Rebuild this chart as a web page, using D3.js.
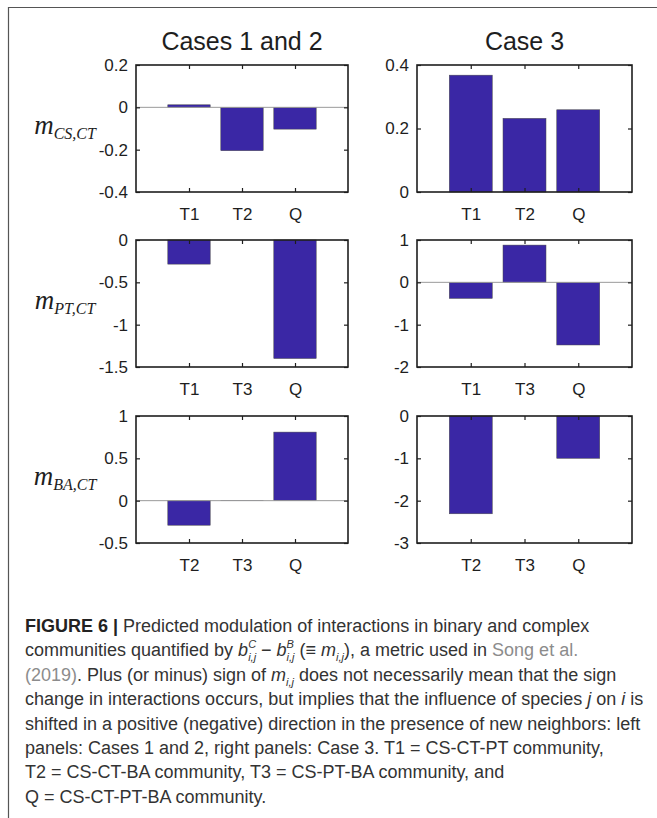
<!DOCTYPE html>
<html>
<head>
<meta charset="utf-8">
<script src="https://cdn.jsdelivr.net/npm/d3@7"></script>
<style>
  html, body { margin: 0; padding: 0; background: #fff; }
  svg { display: block; }
  text { white-space: pre; }
</style>
</head>
<body>
<svg id="fig" width="657" height="818"></svg>
<script>
// ---- data ----
const columnTitles = ["Cases 1 and 2", "Case 3"];
const rowSubscripts = ["CS,CT", "PT,CT", "BA,CT"];
const rowCategories = [["T1", "T2", "Q"], ["T1", "T3", "Q"], ["T2", "T3", "Q"]];

// m_{i,j} values, one array per row
const case12Values = [[0.012, -0.205, -0.103], [-0.285, 0, -1.40], [-0.29, 0.002, 0.81]];
const case3Values  = [[0.368, 0.232, 0.259], [-0.38, 0.88, -1.48], [-2.31, 0, -1.0]];

const case12Domains = [[-0.4, 0.2], [-1.5, 0], [-0.5, 1]];
const case3Domains  = [[0, 0.4], [-2, 1], [-3, 0]];
const case12Ticks = [[-0.4, -0.2, 0, 0.2], [-1.5, -1, -0.5, 0], [-0.5, 0, 0.5, 1]];
const case3Ticks  = [[0, 0.2, 0.4], [-2, -1, 0, 1], [-3, -2, -1, 0]];

// ---- layout ----
const svg = d3.select("#fig");
const colLeft = [136, 417];
const colWidth = [212, 215];
const rowTop = [65, 240, 416];
const panelH = 127;
const barColor = "#3a27a5";
const ink = "#1e1e1e";

// outer frame (top and left rules)
svg.append("line").attr("x1", 8).attr("x2", 657).attr("y1", 7.5).attr("y2", 7.5)
  .attr("stroke", "#555").attr("stroke-width", 1.2);
svg.append("line").attr("x1", 8.5).attr("x2", 8.5).attr("y1", 7).attr("y2", 818)
  .attr("stroke", "#555").attr("stroke-width", 1.2);

// column titles
columnTitles.forEach((t, c) => {
  svg.append("text")
    .attr("x", colLeft[c] + colWidth[c] / 2).attr("y", 50)
    .attr("text-anchor", "middle")
    .attr("font-family", "Liberation Sans, Arial, sans-serif")
    .attr("font-size", 25).attr("fill", ink)
    .text(t);
});

const fmt = v => String(v);

function drawPanel(c, r, values, domain, ticks) {
  const left = colLeft[c], w = colWidth[c], top = rowTop[r];
  const g = svg.append("g").attr("transform", `translate(${left},${top})`);
  const x = d3.scaleLinear().domain([0, 4]).range([0, w]);
  const y = d3.scaleLinear().domain(domain).range([panelH, 0]);
  const cats = rowCategories[r];
  const bw = x(0.8) - x(0);

  // bars
  g.selectAll("rect.bar").data(values).join("rect")
    .attr("class", "bar")
    .attr("x", (d, i) => x(i + 1) - bw / 2)
    .attr("width", bw)
    .attr("y", d => y(Math.max(0, d)))
    .attr("height", d => Math.abs(y(d) - y(0)))
    .attr("fill", barColor)
    .attr("stroke", "#4a4a4a").attr("stroke-width", 0.5)
    .attr("display", d => d === 0 ? "none" : null);

  // zero baseline
  if (domain[0] < 0 && domain[1] > 0) {
    g.append("line").attr("x1", 0).attr("x2", w)
      .attr("y1", y(0)).attr("y2", y(0))
      .attr("stroke", "#9a9a9a").attr("stroke-width", 1);
  }

  const style = sel => {
    sel.select(".domain").remove();
    sel.selectAll(".tick line").attr("stroke", ink).attr("stroke-width", 1.2);
    sel.selectAll(".tick text")
      .attr("font-family", "Liberation Sans, Arial, sans-serif")
      .attr("font-size", 17).attr("fill", ink);
  };

  g.append("g").call(d3.axisLeft(y).tickValues(ticks).tickFormat(fmt)
    .tickSize(-4).tickSizeOuter(0).tickPadding(8)).call(style);
  g.append("g").attr("transform", `translate(${w},0)`)
    .call(d3.axisRight(y).tickValues(ticks).tickFormat("").tickSize(-4).tickSizeOuter(0)).call(style);
  g.append("g").attr("transform", `translate(0,${panelH})`)
    .call(d3.axisBottom(x).tickValues([1, 2, 3]).tickFormat(i => cats[i - 1])
      .tickSize(-4).tickSizeOuter(0).tickPadding(16)).call(style);
  g.append("g")
    .call(d3.axisTop(x).tickValues([1, 2, 3]).tickFormat("").tickSize(-4).tickSizeOuter(0)).call(style);

  // axes box
  g.append("rect").attr("x", 0).attr("y", 0).attr("width", w).attr("height", panelH)
    .attr("fill", "none").attr("stroke", ink).attr("stroke-width", 1.6);
}

for (let r = 0; r < 3; r++) {
  drawPanel(0, r, case12Values[r], case12Domains[r], case12Ticks[r]);
  drawPanel(1, r, case3Values[r], case3Domains[r], case3Ticks[r]);

  // row label m_{..}
  const lab = svg.append("text")
    .attr("x", 65).attr("y", rowTop[r] + panelH / 2 + 5)
    .attr("text-anchor", "middle")
    .attr("font-family", "Liberation Serif, Times New Roman, serif")
    .attr("font-style", "italic").attr("fill", ink);
  lab.append("tspan").attr("font-size", 27).text("m");
  lab.append("tspan").attr("font-size", 16).attr("dy", 5).text(rowSubscripts[r]);
}

// ---- caption ----
const captionLines = [
  [["b", "FIGURE 6 |"], ["n", " Predicted modulation of interactions in binary and complex"]],
  [["n", "communities quantified by "], ["i", "b"], ["sup", "C"], ["subBack", "i,j"], ["n", " − "],
   ["i", "b"], ["sup", "B"], ["subBack", "i,j"], ["n", " (≡ "], ["i", "m"], ["sub", "i,j"],
   ["n", "), a metric used in "], ["link", "Song et al."]],
  [["link", "(2019)"], ["n", ". Plus (or minus) sign of "], ["i", "m"], ["sub", "i,j"],
   ["n", " does not necessarily mean that the sign"]],
  [["n", "change in interactions occurs, but implies that the influence of species "], ["i", "j"],
   ["n", " on "], ["i", "i"], ["n", " is"]],
  [["n", "shifted in a positive (negative) direction in the presence of new neighbors: left"]],
  [["n", "panels: Cases 1 and 2, right panels: Case 3. T1 = CS-CT-PT community,"]],
  [["n", "T2 = CS-CT-BA community, T3 = CS-PT-BA community, and"]],
  [["n", "Q = CS-CT-PT-BA community."]]
];

const capTop = 632, capStep = 24.4;
captionLines.forEach((segs, li) => {
  const t = svg.append("text")
    .attr("x", 25).attr("y", capTop + li * capStep)
    .attr("font-family", "Liberation Sans, Arial, sans-serif")
    .attr("font-size", 18).attr("fill", "#333");
  let shift = 0, prevW = 0;
  segs.forEach(([kind, str]) => {
    let target = 0;
    if (kind === "sup") target = -8;
    if (kind === "sub" || kind === "subBack") target = 5;
    const ts = t.append("tspan").attr("dy", target - shift).text(str);
    shift = target;
    if (kind === "b") ts.attr("font-weight", "bold").attr("fill", "#222");
    if (kind === "i") ts.attr("font-style", "italic");
    if (kind === "sup" || kind === "sub" || kind === "subBack")
      ts.attr("font-size", 11).attr("font-style", "italic");
    if (kind === "subBack") ts.attr("dx", -prevW);
    if (kind === "link") ts.attr("fill", "#8c8c8c");
    prevW = ts.node().getComputedTextLength();
  });
});
</script>
</body>
</html>
